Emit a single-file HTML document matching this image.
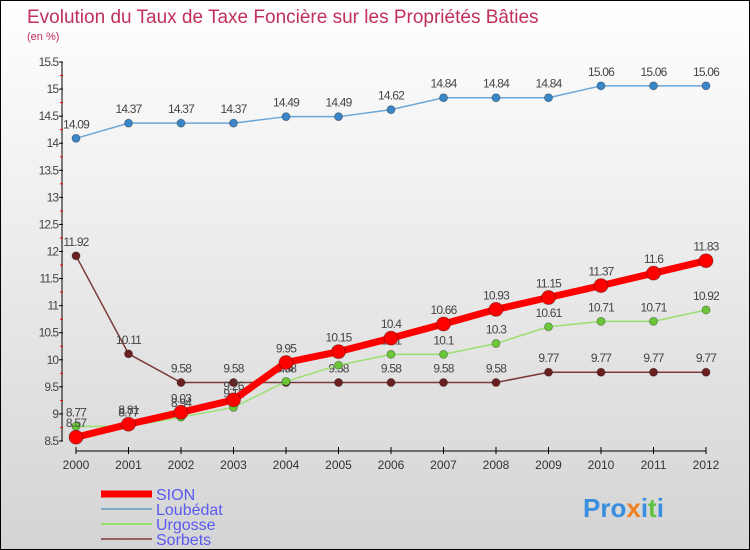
<!DOCTYPE html>
<html><head><meta charset="utf-8"><style>
body{margin:0}
#wrap{position:relative;width:750px;height:550px;box-sizing:border-box;border:1px solid #000;background:linear-gradient(#fff,#d4d4d4);font-family:"Liberation Sans",sans-serif;overflow:hidden}
</style></head><body>
<div id="wrap">
<svg id="c" width="750" height="550" style="position:absolute;left:0;top:0">
<text x="26" y="22" font-size="19" fill="#c0305a">Evolution du Taux de Taxe Foncière sur les Propriétés Bâties</text>
<text x="26" y="39" font-size="11" fill="#c0305a">(en %)</text>
<g id="axes"></g><g id="series"></g>
<g>
<line x1="100" y1="493" x2="151" y2="493" stroke="#f00" stroke-width="7"/>
<text x="155" y="499" font-size="16" fill="#5a5af0">SION</text>
<line x1="100" y1="508" x2="151" y2="508" stroke="#80aac8" stroke-width="2"/>
<text x="155" y="514" font-size="16" fill="#5a5af0">Loubédat</text>
<line x1="100" y1="523" x2="151" y2="523" stroke="#98e070" stroke-width="2"/>
<text x="155" y="529" font-size="16" fill="#5a5af0">Urgosse</text>
<line x1="100" y1="538" x2="151" y2="538" stroke="#9a6060" stroke-width="2"/>
<text x="155" y="544" font-size="16" fill="#5a5af0">Sorbets</text>
</g>
<text x="582" y="516" font-size="26" font-weight="bold" fill="#3a8ee0">Pro<tspan fill="#f08020">x</tspan>i<tspan fill="#60c040">t</tspan>i</text>
</svg>
</div>
<script>
const years=[2000,2001,2002,2003,2004,2005,2006,2007,2008,2009,2010,2011,2012];
const yTicks=[8.5,9,9.5,10,10.5,11,11.5,12,12.5,13,13.5,14,14.5,15,15.5];
const sion=[8.57,8.81,9.03,9.26,9.95,10.15,10.4,10.66,10.93,11.15,11.37,11.6,11.83];
const loubedat=[14.09,14.37,14.37,14.37,14.49,14.49,14.62,14.84,14.84,14.84,15.06,15.06,15.06];
const urgosse=[8.77,8.77,8.94,9.12,9.6,9.9,10.1,10.1,10.3,10.61,10.71,10.71,10.92];
const sorbets=[11.92,10.11,9.58,9.58,9.58,9.58,9.58,9.58,9.58,9.77,9.77,9.77,9.77];
const NS="http://www.w3.org/2000/svg";
function X(i){return 75+i*52.5;}
function Y(v){return 440-(v-8.5)/7*379;}
function mk(t,a,p){const e=document.createElementNS(NS,t);for(const k in a)e.setAttribute(k,a[k]);p.appendChild(e);return e;}
const ax=document.getElementById('axes');
const yl=mk('line',{x1:61,y1:Y(15.5),x2:61,y2:Y(8.5),stroke:'#000'},ax);


const xl=mk('line',{x1:75,y1:450,x2:705,y2:450,stroke:'#000'},ax);


yTicks.forEach((v,i)=>{
 mk('line',{x1:58,y1:Y(v),x2:62,y2:Y(v),stroke:'#000'},ax);
 if(i<yTicks.length-1)mk('line',{x1:59,y1:Y(v+0.25),x2:62,y2:Y(v+0.25),stroke:'#f00'},ax);
 const t=mk('text',{x:57,y:Y(v)+4,'font-size':12,fill:'#444','text-anchor':'end','letter-spacing':'-1'},ax);
 t.textContent=String(v);
 
 
});
years.forEach((yr,i)=>{
 mk('line',{x1:X(i),y1:446,x2:X(i),y2:453,stroke:'#000'},ax);
 const t=mk('text',{x:X(i),y:468,'font-size':12,fill:'#333','text-anchor':'middle'},ax);
 t.textContent=yr;
 
 
});
const sg=document.getElementById('series');
function draw(name,vals,col,dot,w,r){
 const g=mk('g',{},sg);
 
 
 const pl=mk('polyline',{points:vals.map((v,i)=>X(i)+','+Y(v)).join(' '),fill:'none',stroke:col,'stroke-width':w,'stroke-linejoin':'round'},g);
 
 
 vals.forEach((v,i)=>{
  const c=mk('circle',{cx:X(i),cy:Y(v),r:r,fill:dot,stroke:'rgba(0,0,0,0.3)'},g);
  
  
  const t=mk('text',{x:X(i),y:Y(v)-10,'font-size':12,fill:'#444','text-anchor':'middle','letter-spacing':'-0.8'},g);
  t.textContent=String(v);
  
  
 });
}
draw('sorbets',sorbets,'#7a3a3a','#6a2020',1.5,4);
draw('loubedat',loubedat,'#6aa6d8','#3a86c8',1.5,4);
draw('urgosse',urgosse,'#98e070','#6ac838',1.5,4);
draw('sion',sion,'#f00','#f00',7,7);
</script>
</body></html>
